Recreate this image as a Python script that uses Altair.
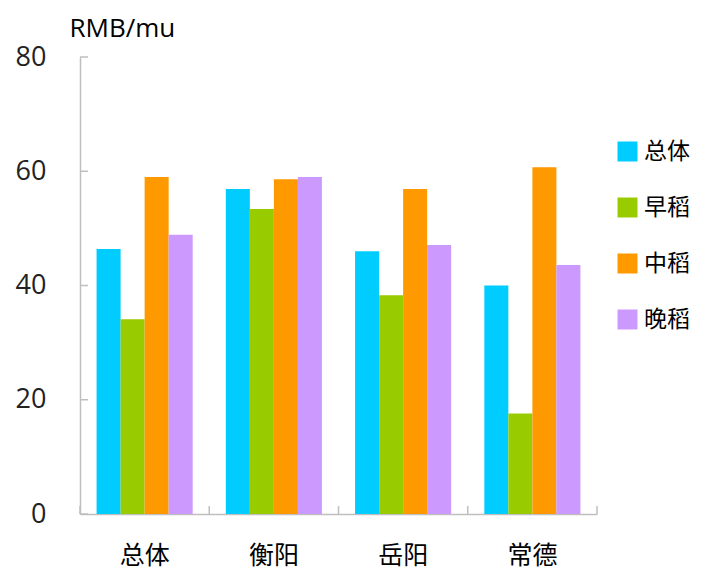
import altair as alt
import pandas as pd

regions = ["总体", "衡阳", "岳阳", "常德"]
series = ["总体", "早稻", "中稻", "晚稻"]
v_total = [46.4, 56.9, 46.0, 40.0]
v_early = [34.1, 53.4, 38.3, 17.6]
v_mid = [59.0, 58.6, 56.9, 60.7]
v_late = [48.9, 59.0, 47.1, 43.6]
colors = ["#00CCFF", "#99CC00", "#FF9900", "#CC99FF"]
y_ticks = [0, 20, 40, 60, 80]

rows = []
for s, vals in zip(series, [v_total, v_early, v_mid, v_late]):
    for r, v in zip(regions, vals):
        rows.append({"region": r, "series": s, "value": v})
df = pd.DataFrame(rows)

W, H = 517, 457
TICK = 8
CJK = "Noto Sans CJK SC"
AX = "#BFBFBF"

x_scale = alt.Scale(domain=regions, paddingInner=0, paddingOuter=0)
y_scale = alt.Scale(domain=[0, 80], nice=False)

bars = alt.Chart(df).mark_bar().encode(
    x=alt.X("region:N", scale=x_scale, sort=regions,
            axis=alt.Axis(title=None, orient="bottom", ticks=False, labelAngle=0,
                          labelFont=CJK, labelFontSize=25, labelColor="#000000",
                          labelPadding=29, domainColor=AX, domainWidth=1.5)),
    xOffset=alt.XOffset("series:N", sort=series,
                        scale=alt.Scale(domain=series, paddingInner=0, paddingOuter=0.69)),
    y=alt.Y("value:Q", scale=y_scale,
            axis=alt.Axis(values=y_ticks, ticks=False, grid=False, labelFont="Open Sans",
                          labelFontSize=27, labelColor="#222222", labelPadding=34,
                          labelBaseline="middle",
                          domainColor=AX, domainWidth=1.5,
                          title="RMB/mu", titleAngle=0, titleAlign="left",
                          titleBaseline="middle", titleX=-11, titleY=-29,
                          titleFont="Open Sans", titleFontSize=26, titleFontWeight="normal",
                          titleColor="#000000")),
    color=alt.Color("series:N", sort=series,
                    scale=alt.Scale(domain=series, range=colors),
                    legend=alt.Legend(title=None, orient="none", legendX=536, legendY=83,
                                      symbolType="square", symbolSize=400,
                                      symbolStrokeWidth=0, labelFont=CJK,
                                      labelFontSize=23, labelColor="#000000",
                                      labelOffset=5, rowPadding=32)),
)

# inward axis ticks (tick marks only; positions from the scales)
ytick_df = pd.DataFrame({"t": y_ticks})
yticks = alt.Chart(ytick_df).mark_rule(color=AX, strokeWidth=1.5).encode(
    y=alt.Y("t:Q", scale=y_scale),
    x=alt.value(0), x2=alt.value(TICK),
)
xtick_start = alt.Chart(pd.DataFrame({"region": regions})).mark_rule(
    color=AX, strokeWidth=1.5).encode(
    x=alt.X("region:N", scale=x_scale, sort=regions, bandPosition=0),
    y=alt.value(H), y2=alt.value(H - TICK),
)
xtick_end = alt.Chart(pd.DataFrame({"region": regions[-1:]})).mark_rule(
    color=AX, strokeWidth=1.5).encode(
    x=alt.X("region:N", scale=x_scale, sort=regions, bandPosition=1),
    y=alt.value(H), y2=alt.value(H - TICK),
)

chart = alt.layer(bars, yticks, xtick_start, xtick_end).properties(
    width=W, height=H,
    autosize=alt.AutoSizeParams(type="none"),
    padding={"left": 72, "top": 49, "right": 97, "bottom": 57},
).configure_view(stroke=None)

chart.save("out.html", embed_options={"renderer": "svg", "actions": False})
